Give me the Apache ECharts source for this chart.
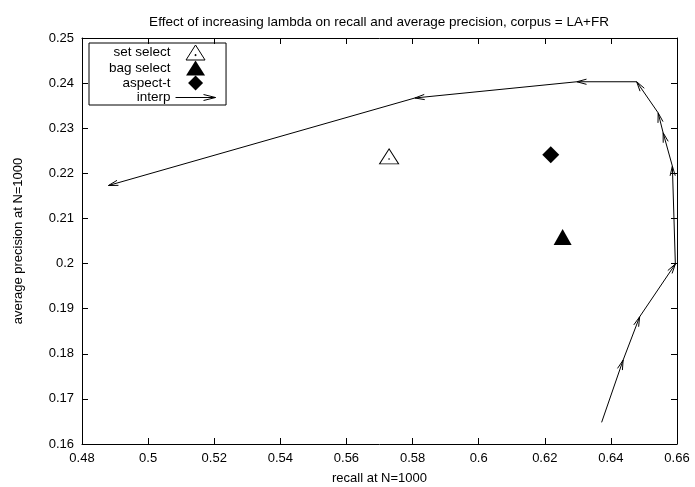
<!DOCTYPE html>
<html>
<head>
<meta charset="utf-8">
<title>Effect of increasing lambda on recall and average precision</title>
<script src="https://cdn.jsdelivr.net/npm/echarts@6/dist/echarts.min.js"></script>
<style>
  html, body { margin: 0; padding: 0; background: #fff; }
  #chart { width: 695px; height: 487px; }
</style>
</head>
<body>
<div id="chart"></div>
<script>
// Single-run results (recall, average precision at N=1000)
const setSelect = [[0.5729, 0.2232]];
const bagSelect = [[0.6254, 0.2053]];
const aspectT = [[0.6218, 0.2241]];

// Interpolation path as lambda increases (consecutive points joined by arrows)
const interpRecall = [0.6372, 0.6437, 0.6487, 0.6595, 0.6586, 0.6558, 0.6543, 0.6478, 0.6297, 0.5807, 0.4880];
const interpPrecision = [0.1648, 0.1786, 0.1882, 0.1999, 0.2216, 0.2290, 0.2334, 0.2403, 0.2403, 0.2367, 0.2173];

// Axis ranges and ticks
const xRange = { min: 0.48, max: 0.66, step: 0.02 };
const yRange = { min: 0.16, max: 0.25, step: 0.01 };

const FONT = "'Liberation Sans', Arial, Helvetica, sans-serif";
const INK = '#000';

// Arrow segments: [x1, y1, x2, y2]
const segments = [];
for (let i = 0; i + 1 < interpRecall.length; i++) {
  segments.push([interpRecall[i], interpPrecision[i], interpRecall[i + 1], interpPrecision[i + 1]]);
}

const tickFmt = v => String(+(+v).toFixed(2));

function valueAxis(range, position, withLabels, extra) {
  return Object.assign({
    type: 'value',
    position: position,
    min: range.min,
    max: range.max,
    interval: range.step,
    axisLine: { show: true, onZero: false, lineStyle: { color: INK, width: 1 } },
    axisTick: { show: true, inside: true, length: 6, lineStyle: { color: INK, width: 1 } },
    axisLabel: {
      show: withLabels,
      formatter: tickFmt,
      color: INK,
      fontFamily: FONT,
      fontSize: 13,
      margin: 8
    },
    splitLine: { show: false }
  }, extra || {});
}

// Vector head drawn at the end point of each segment (open V)
function renderArrow(params, api) {
  const p1 = api.coord([api.value(0), api.value(1)]);
  const p2 = api.coord([api.value(2), api.value(3)]);
  const ang = Math.atan2(p2[1] - p1[1], p2[0] - p1[0]);
  const len = 10, spread = Math.PI / 12;
  const h1 = [p2[0] - len * Math.cos(ang - spread), p2[1] - len * Math.sin(ang - spread)];
  const h2 = [p2[0] - len * Math.cos(ang + spread), p2[1] - len * Math.sin(ang + spread)];
  return {
    type: 'group',
    children: [
      { type: 'line', shape: { x1: p1[0], y1: p1[1], x2: p2[0], y2: p2[1] },
        style: { stroke: INK, lineWidth: 1 } },
      { type: 'polyline', shape: { points: [h1, p2, h2] },
        style: { stroke: INK, fill: null, lineWidth: 1 } }
    ]
  };
}

const chart = echarts.init(document.getElementById('chart'), null, { renderer: 'canvas' });

chart.setOption({
  animation: false,
  backgroundColor: '#fff',
  title: {
    text: 'Effect of increasing lambda on recall and average precision, corpus = LA+FR',
    left: 374,
    textAlign: 'center',
    top: 10,
    textStyle: { fontFamily: FONT, fontSize: 13.5, fontWeight: 'normal', color: INK }
  },
  grid: { left: 82, right: 18, top: 38, bottom: 43, outerBoundsMode: 'none' },
  legend: {
    orient: 'vertical',
    align: 'right',
    left: 89,
    top: 43,
    itemWidth: 40,
    itemHeight: 15,
    itemGap: 0,
    padding: [1.5, 8, 0.5, 20],
    borderColor: INK,
    borderWidth: 1,
    borderRadius: 0,
    selectedMode: false,
    symbolKeepAspect: true,
    textStyle: { fontFamily: FONT, fontSize: 13.5, color: INK },
    data: [
      { name: 'set select', icon: 'path://M9.5 0L19 15L0 15Z M9 9.6L10 9.6L10 10.6L9 10.6Z',
        itemStyle: { color: '#fff', borderColor: INK, borderWidth: 1 } },
      { name: 'bag select', icon: 'path://M9.5 0L19 15L0 15Z', itemStyle: { color: INK, borderWidth: 0 } },
      { name: 'aspect-t', icon: 'path://M8 0L16 8L8 16L0 8Z', itemStyle: { color: INK, borderWidth: 0 } },
      { name: 'interp', icon: 'path://M0 5L40 5M28 2L40 5L28 8',
        itemStyle: { color: 'none', borderColor: INK, borderWidth: 1 } }
    ]
  },
  xAxis: [
    valueAxis(xRange, 'bottom', true, {
      name: 'recall at N=1000',
      nameLocation: 'middle',
      nameGap: 28,
      nameTextStyle: { fontFamily: FONT, fontSize: 13, color: INK }
    }),
    valueAxis(xRange, 'top', false)
  ],
  yAxis: [
    valueAxis(yRange, 'left', true, {
      name: 'average precision at N=1000',
      nameLocation: 'middle',
      nameGap: 57,
      nameTextStyle: { fontFamily: FONT, fontSize: 13, color: INK }
    }),
    valueAxis(yRange, 'right', false)
  ],
  series: [
    {
      name: 'set select',
      type: 'scatter',
      data: setSelect,
      symbol: 'triangle',
      symbolSize: [19, 15],
      symbolOffset: [0, -2.5],
      itemStyle: { color: '#fff', borderColor: INK, borderWidth: 1, opacity: 1 },
      z: 3
    },
    {
      // centre dot of the open triangle
      name: 'set select centre',
      type: 'scatter',
      data: setSelect,
      symbol: 'rect',
      symbolSize: 1.5,
      itemStyle: { color: INK },
      silent: true,
      z: 4
    },
    {
      name: 'bag select',
      type: 'scatter',
      data: bagSelect,
      symbol: 'triangle',
      symbolSize: [18, 16],
      symbolOffset: [0, -2.6],
      itemStyle: { color: INK, opacity: 1 },
      z: 3
    },
    {
      name: 'aspect-t',
      type: 'scatter',
      data: aspectT,
      symbol: 'diamond',
      symbolSize: [17, 17],
      itemStyle: { color: INK, opacity: 1 },
      z: 3
    },
    {
      name: 'interp',
      type: 'custom',
      data: segments,
      encode: { x: [0, 2], y: [1, 3] },
      renderItem: renderArrow,
      clip: false,
      z: 2
    }
  ]
});
</script>
</body>
</html>
